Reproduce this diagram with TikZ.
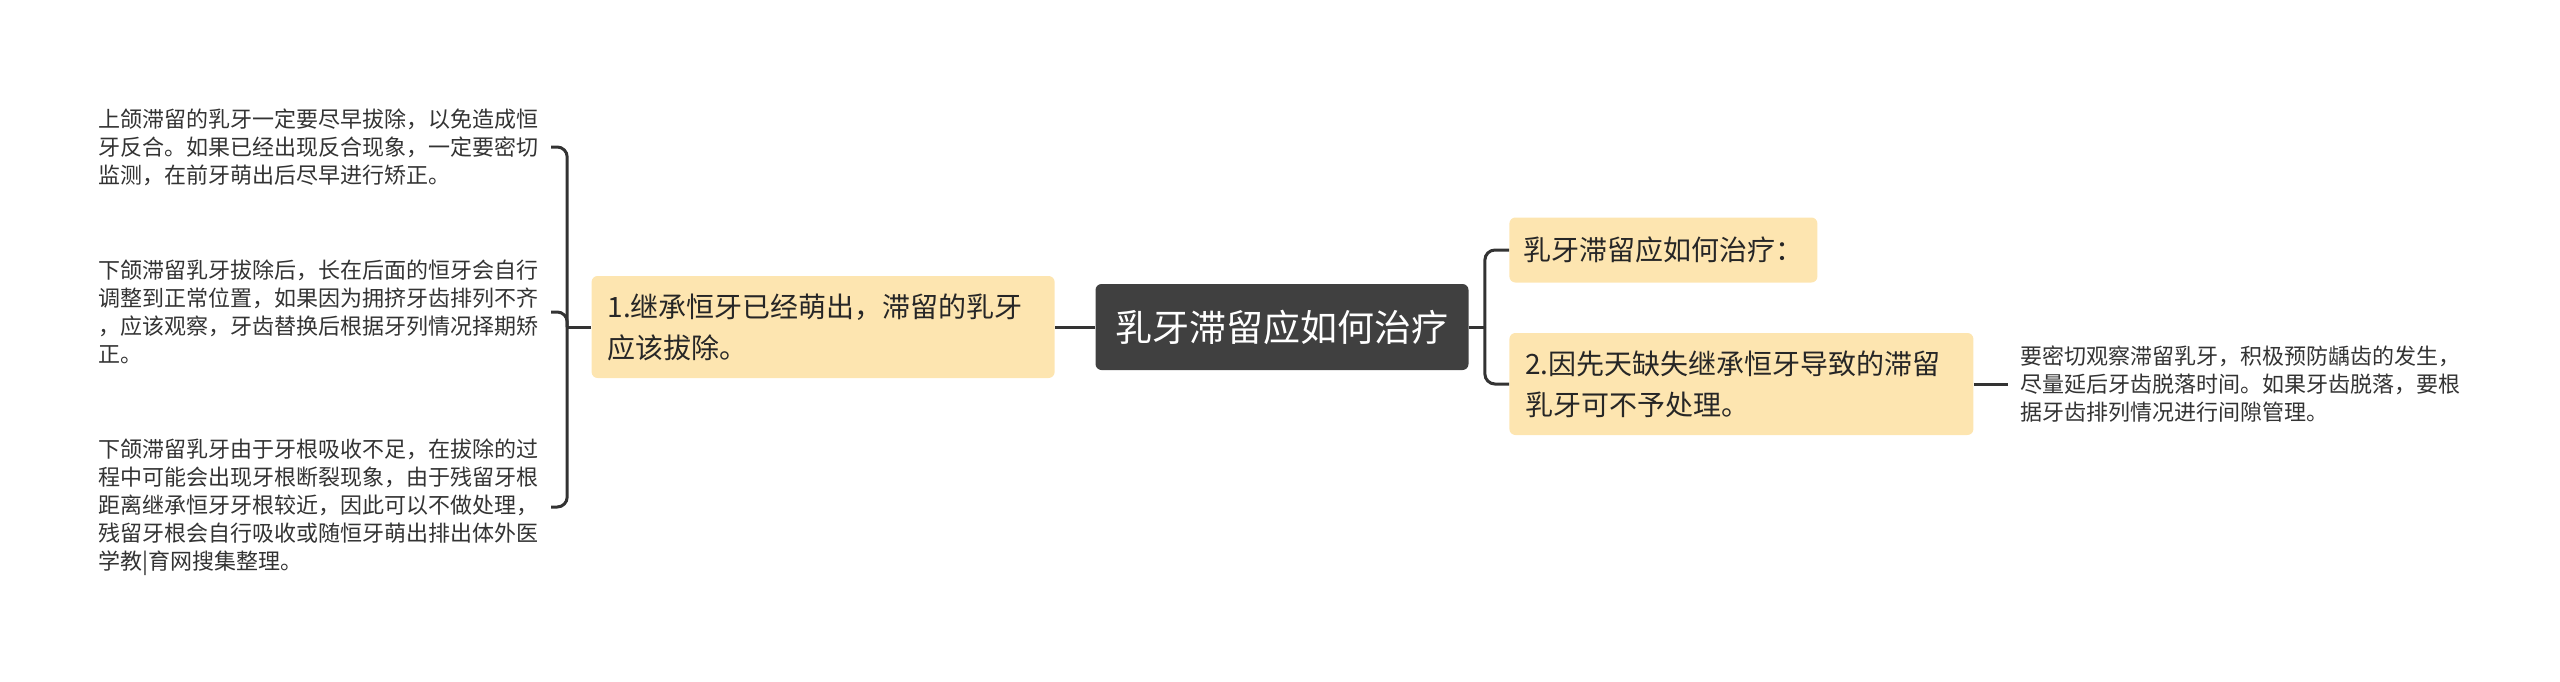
\documentclass[tikz,border=0pt]{standalone}
\usepackage{fontspec}
\newfontfamily\cjk{Noto Sans CJK SC}

\definecolor{rootfill}{HTML}{404040}
\definecolor{topicfill}{HTML}{FDE5B0}
\definecolor{linkgray}{HTML}{333333}

\begin{document}
\begin{tikzpicture}[x = 0.5pt, y = -0.5pt,
	root/.style = {fill = rootfill, text = white, rounded corners = 3pt, inner xsep = 10pt, minimum height = 43pt, font = \cjk\fontsize{18.5pt}{22pt}\selectfont},
	topic/.style = {fill = topicfill, text = black!85, rounded corners = 3pt, inner xsep = 8pt, align = left, font = \cjk\fontsize{14pt}{20.5pt}\selectfont},
	note/.style = {text = linkgray, inner xsep = 6pt, align = left, font = \cjk\fontsize{11pt}{14pt}\selectfont},
	link/.style = {draw = linkgray, line width = 1.5pt, rounded corners = 5pt}]

	% Canvas

	\useasboundingbox (0, 0) rectangle (2560, 681);

	% Root

	\node [root] (root) at (1282, 327) {乳牙滞留应如何治疗};

	% Topics

	\node [topic, anchor = east, text width = 215.5pt, minimum height = 51pt] (keep) at (1055, 327) {1.继承恒牙已经萌出，滞留的乳牙\\应该拔除。};
	\node [topic, anchor = west, inner xsep = 7pt, minimum height = 32.5pt] (how) at (1509, 250) {乳牙滞留应如何治疗：};
	\node [topic, anchor = west, text width = 216pt, minimum height = 51pt] (absent) at (1509, 384) {2.因先天缺失继承恒牙导致的滞留\\乳牙可不予处理。};

	% Notes

	\node [note, anchor = east] (upper) at (551, 147) {上颌滞留的乳牙一定要尽早拔除，以免造成恒\\牙反合。如果已经出现反合现象，一定要密切\\监测，在前牙萌出后尽早进行矫正。};
	\node [note, anchor = east] (lower) at (551, 312) {下颌滞留乳牙拔除后，长在后面的恒牙会自行\\调整到正常位置，如果因为拥挤牙齿排列不齐\\，应该观察，牙齿替换后根据牙列情况择期矫\\正。};
	\node [note, anchor = east] (root res) at (551, 507) {下颌滞留乳牙由于牙根吸收不足，在拔除的过\\程中可能会出现牙根断裂现象，由于残留牙根\\距离继承恒牙牙根较近，因此可以不做处理，\\残留牙根会自行吸收或随恒牙萌出排出体外医\\学教|育网搜集整理。};
	\node [note, anchor = west] (watch) at (2008, 384) {要密切观察滞留乳牙，积极预防龋齿的发生，\\尽量延后牙齿脱落时间。如果牙齿脱落，要根\\据牙齿排列情况进行间隙管理。};

	% Links

	\draw [link] (root.west) -- (keep.east);
	\draw [link] (keep.west) -- ++(-24, 0) coordinate (left fork);
	\foreach \n in {upper, lower, root res}
		\draw [link] (left fork) |- (\n.east);

	\draw [link] (root.east) -- ++(16, 0) coordinate (right fork);
	\foreach \n in {how, absent}
		\draw [link] (right fork) |- (\n.west);

	\draw [link] (absent.east) -- (watch.west);

\end{tikzpicture}
\end{document}
